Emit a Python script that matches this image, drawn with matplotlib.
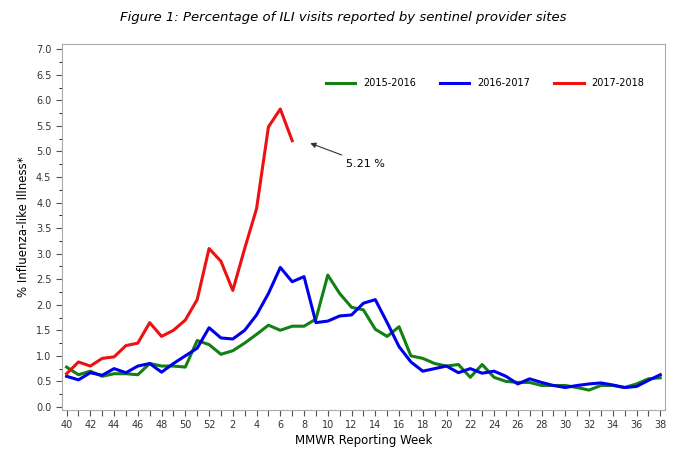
import matplotlib
matplotlib.use("Agg")
import matplotlib.pyplot as plt
from matplotlib.ticker import MultipleLocator

weeks = list(range(40, 53)) + list(range(1, 39))
tick_labels = [str(w) if w % 2 == 0 else "" for w in weeks]

ili_1516 = [0.78, 0.63, 0.70, 0.60, 0.65, 0.65, 0.63, 0.85, 0.80, 0.80, 0.78, 1.30, 1.22,
            1.03, 1.10, 1.25, 1.42, 1.60, 1.50, 1.58, 1.58, 1.72, 2.58, 2.22, 1.95, 1.90,
            1.52, 1.38, 1.57, 1.00, 0.95, 0.85, 0.80, 0.83, 0.58, 0.83, 0.58, 0.50, 0.48,
            0.48, 0.42, 0.42, 0.42, 0.38, 0.33, 0.42, 0.42, 0.38, 0.45, 0.55, 0.57]
ili_1617 = [0.60, 0.53, 0.67, 0.62, 0.75, 0.67, 0.80, 0.85, 0.68, 0.85, 1.00, 1.15, 1.55,
            1.35, 1.33, 1.50, 1.80, 2.22, 2.73, 2.45, 2.55, 1.65, 1.68, 1.78, 1.80, 2.03,
            2.10, 1.65, 1.18, 0.88, 0.70, 0.75, 0.80, 0.67, 0.75, 0.66, 0.70, 0.60, 0.45,
            0.55, 0.48, 0.42, 0.38, 0.42, 0.45, 0.47, 0.43, 0.38, 0.40, 0.52, 0.63]
ili_1718 = [0.65, 0.88, 0.80, 0.95, 0.98, 1.20, 1.25, 1.65, 1.38, 1.50, 1.70, 2.10, 3.10,
            2.85, 2.28, 3.10, 3.88, 5.48, 5.83, 5.21]

x = list(range(len(weeks)))

fig = plt.figure(figsize=(6.87, 4.5), dpi=100)
ax = fig.add_axes([0.09, 0.09, 0.878, 0.812])

ax.plot(x, ili_1516, color="#138013", lw=2.2, label="2015-2016")
ax.plot(x, ili_1617, color="#0000ee", lw=2.2, label="2016-2017")
ax.plot(x[:len(ili_1718)], ili_1718, color="#ee1111", lw=2.2, label="2017-2018")

ax.set_xlim(-0.4, len(weeks) - 0.6)
ax.set_ylim(-0.05, 7.1)
ax.set_xticks(x)
ax.set_xticklabels(tick_labels, fontsize=7, color="#333333")
ax.yaxis.set_major_locator(MultipleLocator(0.5))
ax.yaxis.set_minor_locator(MultipleLocator(0.25))
ax.set_yticks([i * 0.5 for i in range(15)])
ax.set_yticklabels([f"{i * 0.5:.1f}" for i in range(15)], fontsize=7, color="#333333")
ax.tick_params(axis="both", colors="#555555", labelcolor="#333333", length=4)
for s in ax.spines.values():
    s.set_color("#aaaaaa")

ax.set_xlabel("MMWR Reporting Week", fontsize=8.5, labelpad=3)
ax.set_ylabel("% Influenza-like Illness*", fontsize=8.5)
fig.suptitle("Figure 1: Percentage of ILI visits reported by sentinel provider sites",
             fontsize=9.5, style="italic", y=0.975)

ax.legend(loc="upper right", bbox_to_anchor=(0.98, 0.93), ncol=3, frameon=False,
          fontsize=7, handlelength=3, columnspacing=2.5)

ax.annotate("5.21 %", xy=(20.3, 5.18), xytext=(23.5, 4.7), fontsize=8,
            arrowprops=dict(arrowstyle="-|>", color="#333333", lw=0.8))

fig.savefig("out.png", dpi=100)
